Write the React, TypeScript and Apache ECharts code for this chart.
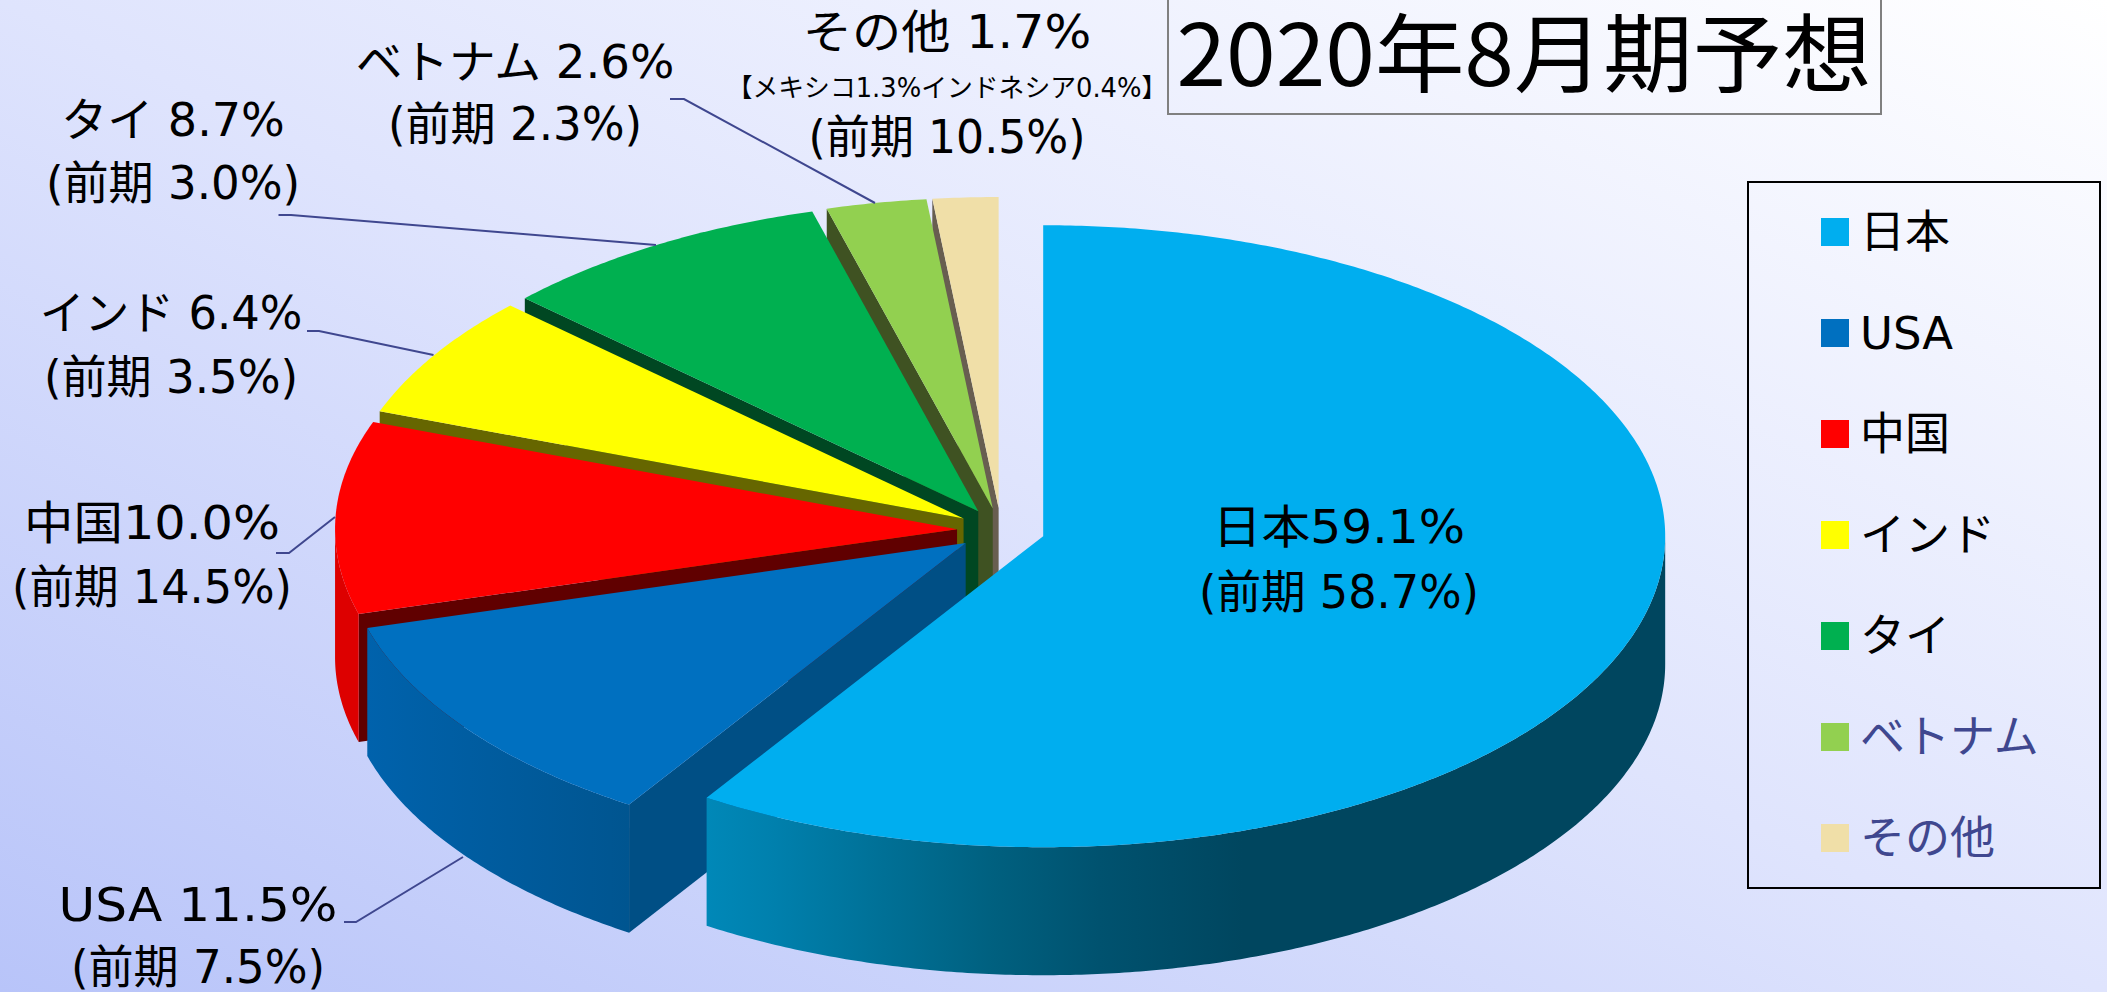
import React, { useEffect, useRef } from "react";
import * as echarts from "echarts";

const names = ["日本", "USA", "中国", "インド", "タイ", "ベトナム", "その他"];
const current = [59.1, 11.5, 10.0, 6.4, 8.7, 2.6, 1.7];
const previous = [58.7, 7.5, 14.5, 3.5, 3.0, 2.3, 10.5];
const labelSeparators = ["", " ", "", " ", " ", " ", " "];
const otherBreakdown = "【メキシコ1.3%インドネシア0.4%】";
const titleText = "2020年8月期予想";

const topColors = ["#00AEEF", "#0070C0", "#FF0000", "#FFFF00", "#00B050", "#92D050", "#F0DFA8"];
const radialColors = [null, "#004F85", "#600000", "#666600", "#004722", "#3F5222", "#685E50"];
const legendTextColors = ["#000", "#000", "#000", "#000", "#000", "#3F478F", "#3F478F"];
const FONT = "'DejaVu Sans', 'Noto Sans CJK JP', sans-serif";
const LEADER = "#3F478F";

const arcFill = (i: number): any => {
  if (i === 0)
    return new echarts.graphic.LinearGradient(0, 0, 1, 0, [
      { offset: 0, color: "#0088B8" },
      { offset: 0.07, color: "#0080AD" },
      { offset: 0.3, color: "#00607F" },
      { offset: 0.41, color: "#00526F" },
      { offset: 0.56, color: "#00465F" },
      { offset: 1, color: "#00465F" },
    ]);
  if (i === 1)
    return new echarts.graphic.LinearGradient(0, 0, 1, 0, [
      { offset: 0, color: "#0062AC" },
      { offset: 1, color: "#005590" },
    ]);
  return "#DD0000";
};

const EXPLODE = 0.0707;
const DEPTH = 0.4116;
const rad = (d: number) => (d * Math.PI) / 180;

const textLayout: { x: number; y: number[]; sx: number[]; note?: number }[] = [
  { x: 1339, y: [527, 592], sx: [1.06, 0.97] },
  { x: 198, y: [905, 967], sx: [1.09, 0.98] },
  { x: 152, y: [523, 587], sx: [1.075, 0.97] },
  { x: 171, y: [313, 377], sx: [0.975, 0.98] },
  { x: 173, y: [120, 183], sx: [1, 0.98] },
  { x: 515, y: [62, 124], sx: [1.015, 0.98] },
  { x: 947, y: [32, 137], sx: [1.07, 0.96], note: 88 },
];
const leaders = [
  [[344, 922], [356, 922], [463, 857]],
  [[276, 553], [289, 553], [335, 517]],
  [[307, 331], [319, 331], [433.5, 355]],
  [[278.5, 215], [291, 215], [656, 245]],
  [[670, 99], [684, 99], [875, 203]],
];

function sliceAngles() {
  const total = current.reduce((a, b) => a + b, 0);
  let c = 0;
  return current.map((v) => {
    const start = (c / total) * 360;
    c += v;
    return { start, end: (c / total) * 360 };
  });
}

function buildOption() {
  const angles = sliceAngles();
  const order = [6, 5, 4, 3, 2, 1, 0];
  const series = order.map((i) => {
    const { start, end } = angles[i];
    const mid = (start + end) / 2;
    const ex = EXPLODE * Math.sin(rad(mid));
    const ey = EXPLODE * Math.cos(rad(mid));
    return {
      type: "custom",
      name: names[i],
      coordinateSystem: "cartesian2d",
      silent: true,
      itemStyle: { color: topColors[i] },
      data: [[0, 0, current[i]]],
      encode: { x: 0, y: 1 },
      renderItem: (_p: any, api: any) => {
        const P = (a: number, drop = 0) =>
          api.coord([ex + Math.sin(rad(a)), ey + Math.cos(rad(a)) - drop]);
        const C = (drop = 0) => api.coord([ex, ey - drop]);
        const children: any[] = [];
        const poly = (points: number[][], fill: any) =>
          children.push({
            type: "polygon",
            shape: { points },
            style: { fill, stroke: null },
          });
        if (radialColors[i]) {
          poly([C(), P(start), P(start, DEPTH), C(DEPTH)], radialColors[i]);
        }
        const a0 = Math.max(start, 90);
        const a1 = Math.min(end, 270);
        if (a1 > a0) {
          const top: number[][] = [];
          const bottom: number[][] = [];
          for (let a = a0; a < a1; a += 0.5) {
            top.push(P(a));
            bottom.unshift(P(a, DEPTH));
          }
          top.push(P(a1));
          bottom.unshift(P(a1, DEPTH));
          poly(top.concat(bottom), arcFill(i));
        }
        const face: number[][] = [C()];
        for (let a = start; a < end; a += 0.5) face.push(P(a));
        face.push(P(end));
        poly(face, topColors[i]);
        return { type: "group", children };
      },
    };
  });

  const texts: any[] = [];
  const addText = (
    text: string,
    x: number,
    y: number,
    fontSize: number,
    scaleX = 1,
    font = FONT
  ) =>
    texts.push({
      type: "text",
      x,
      y,
      scaleX,
      z: 100,
      silent: true,
      style: {
        text,
        fill: "#000",
        font: `${fontSize}px ${font}`,
        align: "center",
        verticalAlign: "middle",
      },
    });
  names.forEach((n, i) => {
    const t = textLayout[i];
    addText(`${n}${labelSeparators[i]}${current[i].toFixed(1)}%`, t.x, t.y[0], 46, t.sx[0]);
    addText(`(前期 ${previous[i].toFixed(1)}%)`, t.x, t.y[1], 46, t.sx[1]);
    if (t.note) addText(otherBreakdown, t.x, t.note, 25.8);
  });
  addText(titleText, 1524, 48, 86, 1.04, "'Noto Sans CJK JP', sans-serif");

  const graphic = [
    {
      type: "rect",
      silent: true,
      z: 100,
      shape: { x: 1168, y: -6, width: 713, height: 120 },
      style: { fill: "none", stroke: "#808080", lineWidth: 2 },
    },
    {
      type: "rect",
      silent: true,
      z: 100,
      shape: { x: 1748, y: 182, width: 352, height: 706 },
      style: { fill: "none", stroke: "#000", lineWidth: 2 },
    },
    ...leaders.map((points) => ({
      type: "polyline",
      silent: true,
      z: 100,
      shape: { points },
      style: { fill: "none", stroke: LEADER, lineWidth: 2 },
    })),
    ...texts,
  ];

  return {
    animation: false,
    backgroundColor: "transparent",
    grid: { left: 379, top: 219, width: 1244, height: 622 },
    xAxis: { type: "value", min: -1, max: 1, show: false },
    yAxis: { type: "value", min: -1, max: 1, show: false },
    legend: {
      orient: "vertical",
      left: 1821,
      top: 209,
      padding: 0,
      icon: "rect",
      itemWidth: 28,
      itemHeight: 28,
      itemGap: 55,
      selectedMode: false,
      textStyle: {
        fontFamily: FONT,
        fontSize: 45,
        lineHeight: 46,
        color: "#000",
        padding: [0, 0, 0, 6],
      },
      data: names.map((name, i) => ({
        name,
        textStyle: { color: legendTextColors[i] },
      })),
    },
    series,
    graphic,
  };
}

export default function App() {
  const ref = useRef<HTMLDivElement>(null);
  useEffect(() => {
    const chart = echarts.init(ref.current!, null, { renderer: "svg" });
    chart.setOption(buildOption() as any);
    return () => chart.dispose();
  }, []);
  return (
    <div
      ref={ref}
      style={{
        position: "fixed",
        left: 0,
        top: 0,
        width: 2107,
        height: 992,
        background: "linear-gradient(to top right, #B8C4F9 0%, #DFE4FD 50%, #FFFFFF 100%)",
      }}
    />
  );
}
